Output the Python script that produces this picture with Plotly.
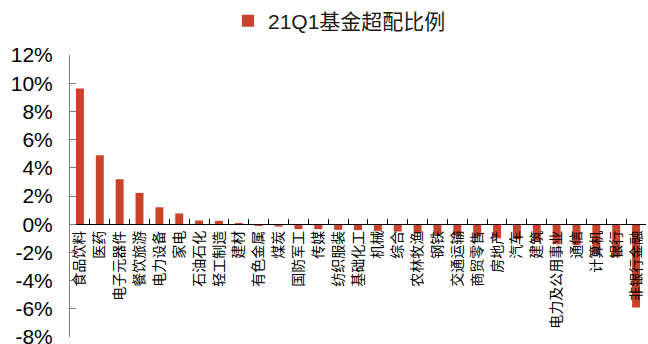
import plotly.graph_objects as go

categories = ["食品饮料", "医药", "电子元器件", "餐饮旅游", "电力设备", "家电", "石油石化", "轻工制造",
              "建材", "有色金属", "煤炭", "国防军工", "传媒", "纺织服装", "基础化工", "机械", "综合",
              "农林牧渔", "钢铁", "交通运输", "商贸零售", "房地产", "汽车", "建筑", "电力及公用事业",
              "通信", "计算机", "银行", "非银行金融"]
values = [9.62, 4.89, 3.19, 2.22, 1.20, 0.76, 0.26, 0.24,
          0.02, -0.12, -0.17, -0.35, -0.35, -0.40, -0.42, -0.47, -0.52,
          -0.64, -0.71, -0.78, -0.87, -0.99, -1.06, -1.18, -1.42,
          -1.49, -2.13, -2.32, -5.91]
series_name = "21Q1基金超配比例"
y_ticks = [12, 10, 8, 6, 4, 2, 0, -2, -4, -6, -8]
y_tick_text = [f"{v}%" for v in y_ticks]

fig = go.Figure()
fig.add_trace(go.Bar(x=categories, y=values, name=series_name,
                     marker=dict(color="#C8432A", line=dict(width=0)),
                     showlegend=True))

fig.update_layout(
    width=648, height=344,
    margin=dict(l=70, r=2, t=55, b=7, autoexpand=False),
    paper_bgcolor="white", plot_bgcolor="white",
    bargap=0.6,
    showlegend=True,
    legend=dict(orientation="h", x=0.2743, xanchor="left", y=1.12, yanchor="middle",
                font=dict(family="Liberation Sans, Noto Sans CJK SC", size=21, color="#1a1a1a"),
                itemwidth=30, bgcolor="rgba(0,0,0,0)"),
    xaxis=dict(anchor="free", position=0.4, showline=True, linecolor="#000000", linewidth=1,
               ticks="inside", tickson="boundaries", ticklen=5, tickcolor="#000000",
               tickangle=-90, showgrid=False, zeroline=False, automargin=False,
               tickfont=dict(family="Noto Sans CJK SC", size=14, color="#000000")),
    yaxis=dict(range=[-8, 12], tickvals=y_ticks, ticktext=y_tick_text,
               showline=True, linecolor="#808080", linewidth=1,
               ticks="inside", ticklen=6, tickcolor="#808080", automargin=False,
               showgrid=False, zeroline=False, ticklabelstandoff=12,
               ticklabeloverflow="allow",
               tickfont=dict(family="Liberation Sans", size=21, color="#000000")),
)

fig.write_html("out.html", config={"displayModeBar": False},
               post_script="document.body.style.margin='0';document.body.style.overflow='hidden';")
